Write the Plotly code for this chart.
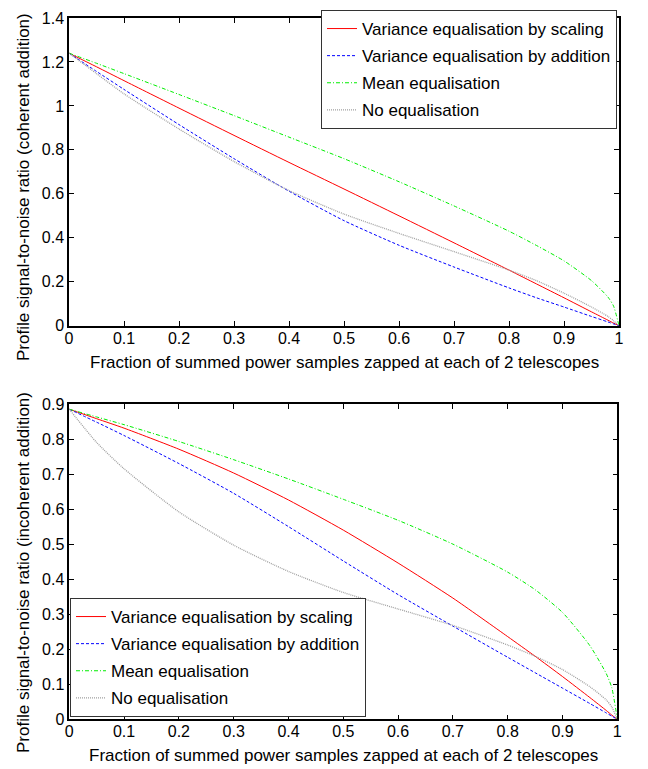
import plotly.graph_objects as go

# ---------------- data ----------------
frac = [0, 0.05, 0.1, 0.2, 0.3, 0.4, 0.5, 0.6, 0.7, 0.8, 0.85, 0.9, 0.95, 0.98, 0.99, 1.0]

# top panel: coherent addition
coh_scaling  = [1.24, 1.178, 1.115, 0.99, 0.866, 0.743, 0.622, 0.5, 0.377, 0.253, 0.19, 0.127, 0.063, 0.025, 0.012, 0.0]
coh_addition = [1.24, 1.157, 1.075, 0.915, 0.76, 0.612, 0.478, 0.366, 0.267, 0.172, 0.127, 0.085, 0.042, 0.017, 0.008, 0.0]
coh_mean     = [1.24, 1.194, 1.147, 1.052, 0.956, 0.858, 0.76, 0.655, 0.545, 0.43, 0.365, 0.295, 0.205, 0.13, 0.09, 0.0]
coh_none     = [1.24, 1.147, 1.055, 0.895, 0.747, 0.615, 0.508, 0.42, 0.337, 0.253, 0.205, 0.148, 0.085, 0.042, 0.023, 0.0]

# bottom panel: incoherent addition
inc_scaling  = [0.885, 0.858, 0.831, 0.771, 0.703, 0.626, 0.54, 0.446, 0.346, 0.236, 0.18, 0.122, 0.062, 0.025, 0.012, 0.0]
inc_addition = [0.885, 0.848, 0.81, 0.73, 0.645, 0.55, 0.452, 0.356, 0.266, 0.177, 0.133, 0.089, 0.045, 0.018, 0.009, 0.0]
inc_mean     = [0.885, 0.863, 0.841, 0.793, 0.741, 0.686, 0.628, 0.568, 0.5, 0.42, 0.37, 0.305, 0.21, 0.13, 0.09, 0.0]
inc_none     = [0.885, 0.79, 0.715, 0.592, 0.497, 0.422, 0.362, 0.315, 0.268, 0.212, 0.18, 0.142, 0.093, 0.055, 0.035, 0.0]

series_names = ["Variance equalisation by scaling", "Variance equalisation by addition",
                "Mean equalisation", "No equalisation"]

x_ticks = [0, 0.1, 0.2, 0.3, 0.4, 0.5, 0.6, 0.7, 0.8, 0.9, 1]
x_ticktext = ["0", "0.1", "0.2", "0.3", "0.4", "0.5", "0.6", "0.7", "0.8", "0.9", "1"]
y1_ticks = [0, 0.2, 0.4, 0.6, 0.8, 1.0, 1.2, 1.4]
y1_ticktext = ["0", "0.2", "0.4", "0.6", "0.8", "1", "1.2", "1.4"]
y2_ticks = [0, 0.1, 0.2, 0.3, 0.4, 0.5, 0.6, 0.7, 0.8, 0.9]
y2_ticktext = ["0", "0.1", "0.2", "0.3", "0.4", "0.5", "0.6", "0.7", "0.8", "0.9"]

x_title = "Fraction of summed power samples zapped at each of 2 telescopes"
y1_title = "Profile signal-to-noise ratio (coherent addition)"
y2_title = "Profile signal-to-noise ratio (incoherent addition)"

# ---------------- styling ----------------
# the page body adds an 8px offset, so the figure is 8px smaller and all
# page positions below are converted with OFF
OFF = 8
W, H = 648 - OFF, 769 - OFF


def px(xp):
    return (xp - OFF) / W


def py(yp):
    return 1 - (yp - OFF) / H


FONT = "Liberation Sans, Arial, sans-serif"
FS = 17
TFS = 16
styles = [
    dict(color="#ff0000", dash="solid", width=1),
    dict(color="#0000ff", dash="3px,2px", width=1),
    dict(color="#00ee00", dash="4px,2px,1px,2px", width=1),
    dict(color="#a0a0a0", dash="1px,1px", width=1.3),
]

fig = go.Figure()
for i, (ys, st, nm) in enumerate(zip([coh_scaling, coh_addition, coh_mean, coh_none], styles, series_names)):
    fig.add_trace(go.Scatter(x=frac, y=ys, mode="lines", name=nm, line=dict(shape="spline", smoothing=0.6, **st),
                             xaxis="x", yaxis="y", legend="legend", legendgroup="t%d" % i))
for i, (ys, st, nm) in enumerate(zip([inc_scaling, inc_addition, inc_mean, inc_none], styles, series_names)):
    fig.add_trace(go.Scatter(x=frac, y=ys, mode="lines", name=nm, line=dict(shape="spline", smoothing=0.6, **st),
                             xaxis="x2", yaxis="y2", legend="legend2", legendgroup="b%d" % i))

axis_common = dict(showline=True, linecolor="black", linewidth=1.5, mirror="ticks", ticks="inside",
                   ticklen=5, tickcolor="black", tickwidth=1, showgrid=False, zeroline=False,
                   automargin=False, ticklabeloverflow="allow",
                   tickfont=dict(family=FONT, size=TFS, color="black"))

fig.update_layout(
    template="none",
    width=W, height=H, margin=dict(l=0, r=0, t=0, b=0, pad=0, autoexpand=False),
    paper_bgcolor="white", plot_bgcolor="white",
    font=dict(family=FONT, size=FS, color="black"),
    xaxis=dict(domain=[px(69), px(619)], anchor="y", range=[0, 1], tickvals=x_ticks, ticktext=x_ticktext,
               ticklabelstandoff=-3, **axis_common),
    yaxis=dict(domain=[py(325.7), py(18)], anchor="x", range=[0, 1.4], tickvals=y1_ticks, ticktext=y1_ticktext,
               **axis_common),
    xaxis2=dict(domain=[px(69.3), px(617.3)], anchor="y2", range=[0, 1], tickvals=x_ticks, ticktext=x_ticktext,
                ticklabelstandoff=-3, **axis_common),
    yaxis2=dict(domain=[py(719.3), py(404)], anchor="x2", range=[0, 0.9], tickvals=y2_ticks, ticktext=y2_ticktext,
                **axis_common),
    legend=dict(x=px(617), y=py(10), xanchor="right", yanchor="top", bgcolor="white", tracegroupgap=2,
                bordercolor="#333333", borderwidth=1, font=dict(family=FONT, size=FS, color="black")),
    legend2=dict(x=px(70), y=py(717), xanchor="left", yanchor="bottom", bgcolor="white", tracegroupgap=2,
                 bordercolor="#333333", borderwidth=1, font=dict(family=FONT, size=FS, color="black")),
    showlegend=True,
    annotations=[
        dict(text=x_title, xref="x domain", yref="paper", x=0.5, y=py(363), showarrow=False,
             xanchor="center", yanchor="middle", font=dict(family=FONT, size=FS)),
        dict(text=x_title, xref="x2 domain", yref="paper", x=0.5, y=py(755), showarrow=False,
             xanchor="center", yanchor="middle", font=dict(family=FONT, size=FS)),
        dict(text=y1_title, xref="paper", yref="paper", x=px(23), y=py(187), showarrow=False, textangle=-90,
             xanchor="center", yanchor="middle", font=dict(family=FONT, size=FS)),
        dict(text=y2_title, xref="paper", yref="paper", x=px(23), y=py(573), showarrow=False, textangle=-90,
             xanchor="center", yanchor="middle", font=dict(family=FONT, size=FS)),
    ],
)

fig.write_html("out.html")
